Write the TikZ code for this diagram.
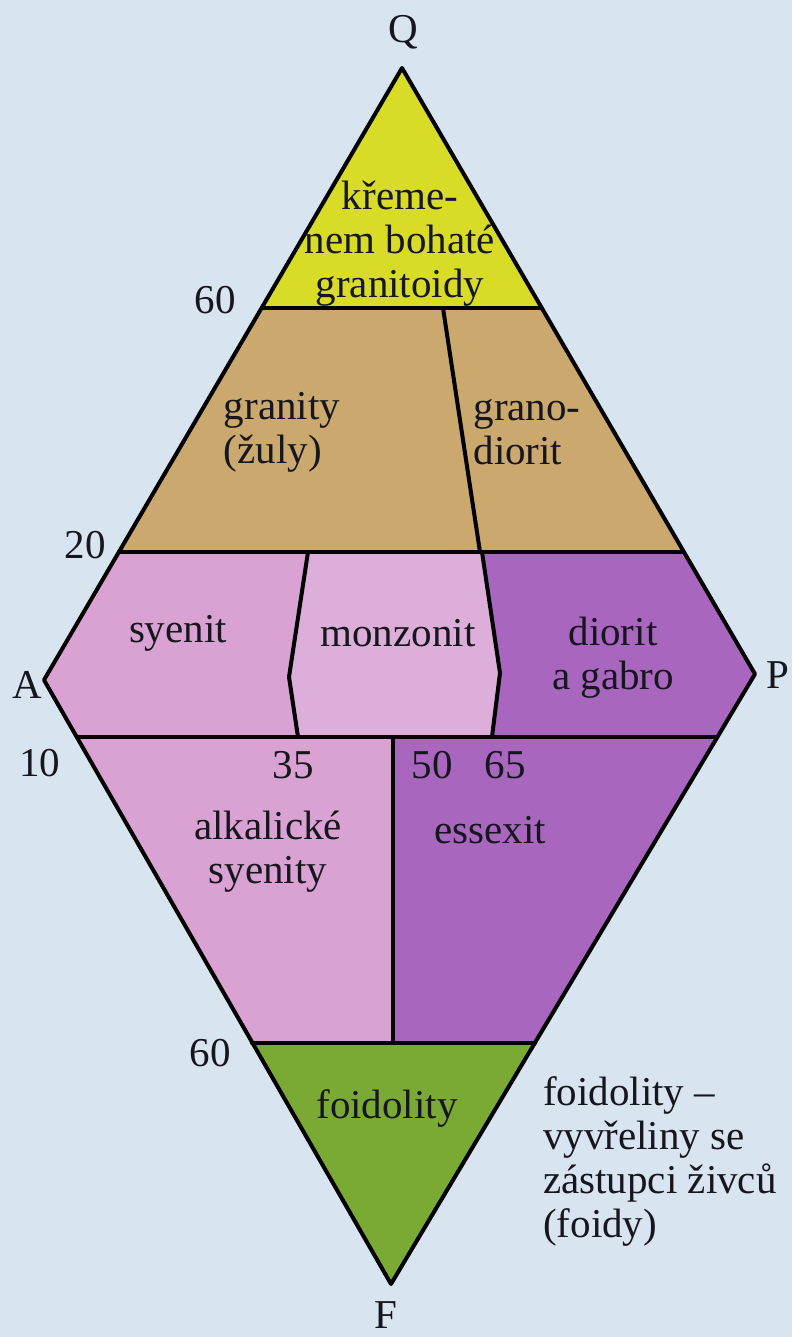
\documentclass[tikz,border=0pt]{standalone}
\usepackage{fontspec}
\setmainfont{Liberation Serif}
\definecolor{bg}{HTML}{D9E4F1}
\definecolor{cyellow}{HTML}{D8DC26}
\definecolor{ctan}{HTML}{CAA86E}
\definecolor{cpink}{HTML}{D9A2D3}
\definecolor{cpinkl}{HTML}{DDAEDA}
\definecolor{cpurple}{HTML}{A866BE}
\definecolor{cgreen}{HTML}{7BAA34}
\definecolor{ink}{HTML}{16161E}
\begin{document}
\begin{tikzpicture}[x=1pt,y=-1pt,
  txt/.style={inner sep=0pt,text=ink,font=\fontsize{41}{44}\selectfont},
  bnd/.style={line width=4pt,draw=black,line join=round,line cap=round}]
\fill[bg] (0,0) rectangle (792,1337);
\useasboundingbox (0,0) rectangle (792,1337);
% vertices
\coordinate (Q) at (402,68);
\coordinate (A) at (44,680);
\coordinate (P) at (755,674);
\coordinate (F) at (391,1284);
\coordinate (L60) at (262,308);
\coordinate (R60) at (541,308);
\coordinate (L20) at (119,552);
\coordinate (R20) at (683,552);
\coordinate (L10) at (77,737);
\coordinate (R10) at (717,737);
\coordinate (L60b) at (252,1043);
\coordinate (R60b) at (535,1043);
% dividers
\coordinate (d1a) at (443,308);
\coordinate (d1b) at (480,552);
\coordinate (d2a) at (308,552);
\coordinate (d2b) at (289,677);
\coordinate (d2c) at (298,737);
\coordinate (d3a) at (482,552);
\coordinate (d3b) at (500,673);
\coordinate (d3c) at (492,737);
\coordinate (d4a) at (393,737);
\coordinate (d4b) at (393,1043);
% fills
\fill[cyellow] (Q) -- (R60) -- (L60) -- cycle;
\fill[ctan] (L60) -- (R60) -- (R20) -- (L20) -- cycle;
\fill[cpink] (L20) -- (d2a) -- (d2b) -- (d2c) -- (L10) -- (A) -- cycle;
\fill[cpinkl] (d2a) -- (d3a) -- (d3b) -- (d3c) -- (d2c) -- (d2b) -- cycle;
\fill[cpurple] (d3a) -- (R20) -- (P) -- (R10) -- (d3c) -- (d3b) -- cycle;
\fill[cpink] (L10) -- (d4a) -- (d4b) -- (L60b) -- cycle;
\fill[cpurple] (d4a) -- (R10) -- (R60b) -- (d4b) -- cycle;
\fill[cgreen] (L60b) -- (R60b) -- (F) -- cycle;
% boundaries
\draw[bnd] (Q) -- (P) -- (F) -- (A) -- cycle;
\draw[bnd] (L60) -- (R60);
\draw[bnd] (L20) -- (R20);
\draw[bnd] (L10) -- (R10);
\draw[bnd] (L60b) -- (R60b);
\draw[bnd] (d1a) -- (d1b);
\draw[bnd] (d2a) -- (d2b) -- (d2c);
\draw[bnd] (d3a) -- (d3b) -- (d3c);
\draw[bnd] (d4a) -- (d4b);
% vertex labels
\node[txt] (lQ) at (403,32) {Q};
\node[txt] (lA) at (27,685) {A};
\node[txt] (lP) at (778,675) {P};
\node[txt] (lF) at (386,1315) {F};
% scale numbers
\node[txt] (n60a) at (215,300) {60};
\node[txt] (n20) at (85,545) {20};
\node[txt] (n10) at (40,763) {10};
\node[txt] (n35) at (293,765) {35};
\node[txt] (n50) at (432,765) {50};
\node[txt] (n65) at (505,765) {65};
\node[txt] (n60b) at (210,1053) {60};
% region labels
\node[txt,align=center] (kre) at (400,244) {křeme-\\nem bohaté\\granitoidy};
\node[txt,align=left] (gra) at (282,432) {granity\\(žuly)};
\node[txt,align=left] (grd) at (527,432) {grano-\\diorit};
\node[txt] (sye) at (178,633) {syenit};
\node[txt] (mon) at (398,633) {monzonit};
\node[txt,align=center] (dio) at (613,658) {diorit\\a gabro};
\node[txt,align=center] (alk) at (268,852) {alkalické\\syenity};
\node[txt] (ess) at (490,830) {essexit};
\node[txt] (foi) at (387,1108) {foidolity};
\node[txt,align=left,anchor=west] (note) at (543,1161) {foidolity –\\vyvřeliny se\\zástupci živců\\(foidy)};
\end{tikzpicture}
\end{document}
